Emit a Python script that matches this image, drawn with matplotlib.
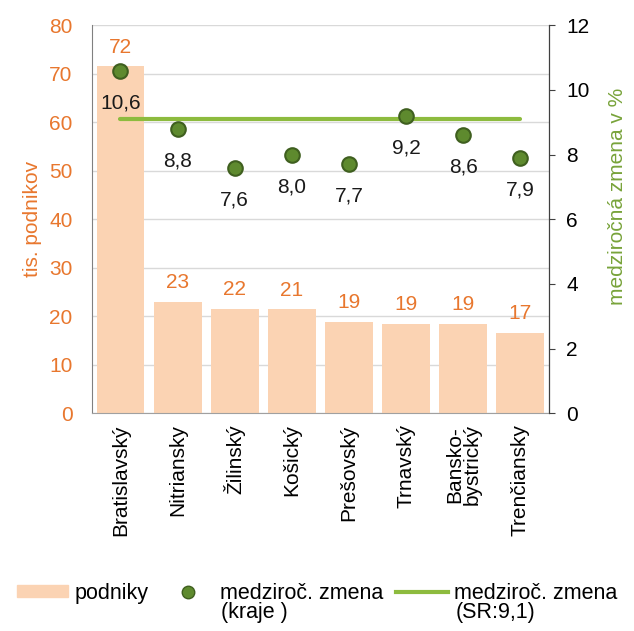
import matplotlib
matplotlib.use("Agg")
from matplotlib import pyplot as plt
from matplotlib.lines import Line2D
from matplotlib.patches import Patch

plt.rcParams['font.family'] = ['Liberation Sans', 'DejaVu Sans']

regions = ["Bratislavský", "Nitriansky", "Žilinský", "Košický", "Prešovský",
           "Trnavský", "Bansko-\nbystrický", "Trenčiansky"]
podniky = [71.5, 23.0, 21.6, 21.4, 18.9, 18.5, 18.5, 16.6]
podniky_labels = ["72", "23", "22", "21", "19", "19", "19", "17"]
zmena = [10.6, 8.8, 7.6, 8.0, 7.7, 9.2, 8.6, 7.9]
zmena_sr = 9.1

orange = "#E8772E"
bar_c = "#FBD3B3"
green_pt = "#5E8A2E"
green_edge = "#3F5F1F"
green_line = "#8DBB3E"
green_txt = "#78A33A"
fs = 15
fs_leg = 15.5

fig = plt.figure(figsize=(6.34, 6.31), dpi=100)
ax = fig.add_axes([0.145, 0.345, 0.721, 0.615])
ax2 = ax.twinx()

x = list(range(len(regions)))
ax.bar(x, podniky, width=0.84, color=bar_c, zorder=2)
for xi, v, lab in zip(x, podniky, podniky_labels):
    ax.text(xi, v + 2, lab, color=orange, ha="center", va="bottom", fontsize=fs)

ax.set_ylim(0, 80)
ax.set_xlim(-0.5, 7.5)
ax.set_yticks(range(0, 81, 10))
ax.tick_params(axis="y", colors=orange, labelsize=fs, length=0, pad=14)
ax.tick_params(axis="x", length=0, labelsize=fs, pad=8)
ax.set_xticks(x)
ax.set_xticklabels(regions, rotation=90, linespacing=0.9)
ax.grid(axis="y", color="#D9D9D9", linewidth=1, zorder=0)
ax.set_axisbelow(True)
ax.set_ylabel("tis. podnikov", color=orange, fontsize=fs)
ax.yaxis.set_label_coords(-0.11, 0.5)

ax.spines["top"].set_visible(False)
ax2.spines["top"].set_visible(False)
ax.spines["left"].set_color("#808080")
ax.spines["bottom"].set_color("#A0A0A0")
ax2.spines["left"].set_visible(False)
ax2.spines["bottom"].set_visible(False)
ax2.spines["right"].set_color("#404040")

ax2.plot([x[0], x[-1]], [zmena_sr, zmena_sr], color=green_line, linewidth=3,
         solid_capstyle="round", zorder=3)
ax2.scatter(x, zmena, s=110, color=green_pt, edgecolor=green_edge, linewidth=1.5, zorder=4)
for xi, v in zip(x, zmena):
    ax2.text(xi, v - 0.7, f"{v:.1f}".replace(".", ","), ha="center", va="top",
             fontsize=fs, color="#1a1a1a")
ax2.set_ylim(0, 12)
ax2.set_yticks(range(0, 13, 2))
ax2.tick_params(axis="y", labelsize=fs, length=4.5, color="#404040", pad=8)
ax2.set_ylabel("medziročná zmena v %", color=green_txt, fontsize=fs)
ax2.yaxis.set_label_coords(1.13, 0.56)

handles = [
    Patch(color=bar_c),
    Line2D([], [], marker="o", linestyle="none", markersize=9,
           markerfacecolor=green_pt, markeredgecolor=green_edge),
    Line2D([], [], color=green_line, linewidth=3),
]
labels = ["podniky", "medziroč. zmena", "medziroč. zmena"]
leg = fig.legend(handles, labels, loc="center", bbox_to_anchor=(0.5, 0.06),
                 ncol=3, frameon=False, fontsize=fs_leg, handlelength=2.4,
                 handleheight=0.45, columnspacing=0.6, handletextpad=0.3)

# second lines of the legend labels
fig.canvas.draw()
second = {1: "(kraje )", 2: "(SR:9,1)"}
inv = fig.transFigure.inverted()
for i, txt in second.items():
    bb = leg.get_texts()[i].get_window_extent()
    x0, y0 = inv.transform((bb.x0, bb.y0))
    fig.text(x0 + 0.002, y0 + 0.002, txt, ha="left", va="top", fontsize=fs_leg)

fig.savefig("out.png", dpi=100)
